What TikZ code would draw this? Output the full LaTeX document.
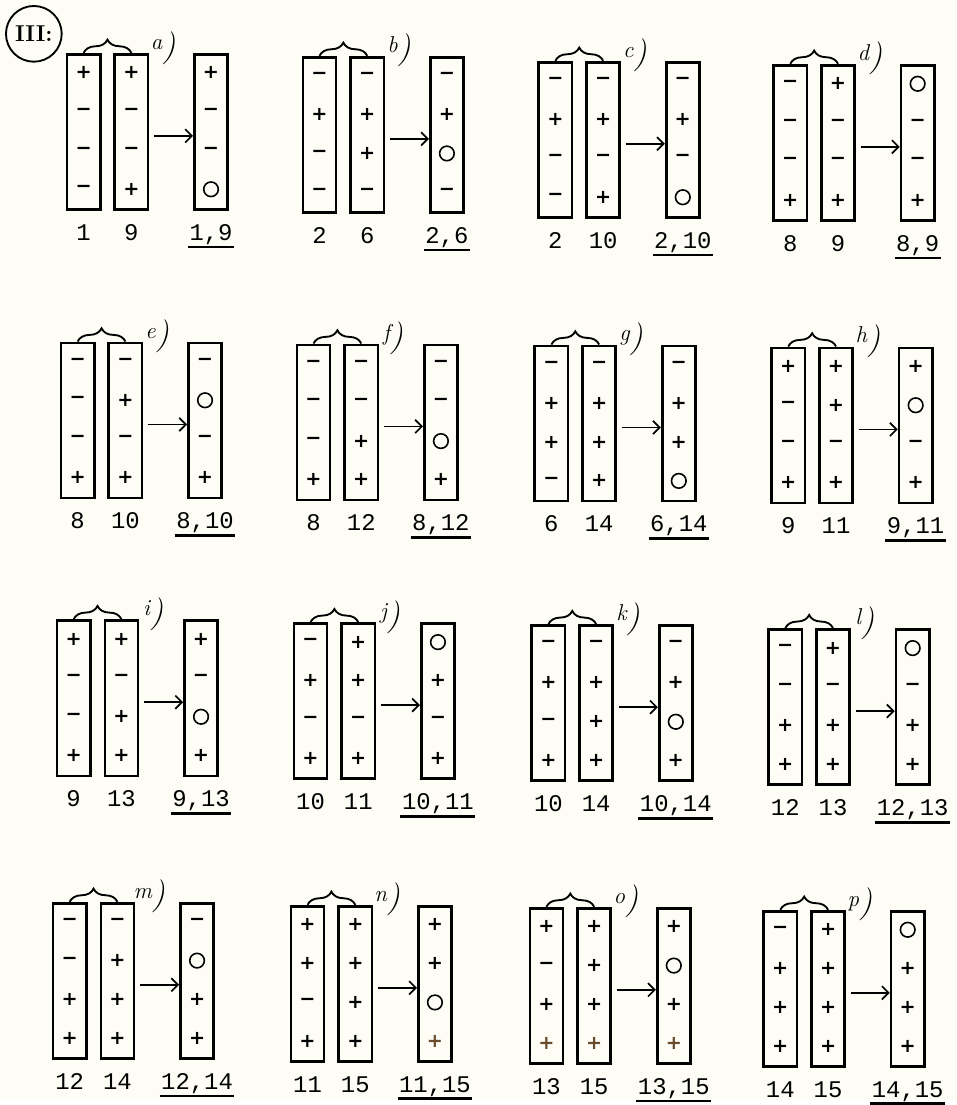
\documentclass[tikz,border=0pt]{standalone}
\usepackage{fontspec}
\setmonofont{Liberation Mono}
\newfontfamily\signfont{DejaVu Sans}
\usetikzlibrary{positioning,calc,arrows.meta,decorations.pathreplacing}

\definecolor{paper}{RGB}{253,253,245}
\definecolor{inkbrown}{RGB}{105,75,45}

\newcommand*{\px}{0.75pt}
\newcommand*{\colgap}{9pt}
\newcommand*{\resgap}{33pt}

% signs of one strip: p = plus, m = minus, o = zero, q = brown plus
\newcommand{\fillstrip}[2]{%
	\foreach \s [count=\k] in {#2} {
		\if\s o
			\node[zero] (#1\k) at ($(#1.north)+(0,{20+39*(\k-1)})$) {};
		\else
			\node[sign] (#1\k) at ($(#1.north)+(0,{20+39*(\k-1)})$) {\if\s m−\else\if\s q\color{inkbrown}\fi+\fi};
		\fi
	}%
}

% one panel: name, x, y, letter, left, right and joined strip, numbers
\newcommand{\panel}[9]{%
	\node[strip] (#1l) at ({#2+17},{#3+78.5}) {};
	\node[strip, right=\colgap of #1l] (#1r) {};
	\node[strip, right=\resgap of #1r] (#1s) {};
	\fillstrip{#1l}{#5}
	\fillstrip{#1r}{#6}
	\fillstrip{#1s}{#7}
	\draw[topbrace] (#1l.north) -- (#1r.north);
	\node[tag] (#1t) at ({#2+97},{#3-6}) {\raisebox{5pt}{#4}\Huge)};
	\draw[joinarrow] ([yshift=-3pt]#1r.east) -- ([yshift=-3pt]#1s.west);
	\node[num, below=10pt of #1l] (#1n) {#8};
	\node[num, below=10pt of #1r] (#1m) {#9};
	\node[num, below=10pt of #1s] (#1u) {#8,#9};
	\draw[underline] ([xshift=-1pt,yshift=-5pt]#1u.base west) -- ([xshift=1pt,yshift=-5pt]#1u.base east);
}

\begin{document}
\begin{tikzpicture}
[
	x=\px,
	y=-\px,
	strip/.style={draw, line width=2pt, minimum width=25pt, minimum height=117pt, inner sep=0pt},
	sign/.style={inner sep=0pt, font=\signfont\bfseries\fontsize{14.5}{14.5}\selectfont},
	zero/.style={circle, draw, line width=1.2pt, minimum size=11pt, inner sep=0pt},
	topbrace/.style={decorate, decoration={brace, amplitude=10pt}, line width=1.4pt},
	joinarrow/.style={-{Straight Barb[length=5pt,width=10pt]}, line width=1.3pt, shorten <=3.5pt},
	tag/.style={inner sep=0pt, font=\itshape\LARGE},
	num/.style={inner sep=0pt, font=\ttfamily\fontsize{18}{18}\selectfont},
	underline/.style={line width=2pt},
	header/.style={circle, draw, line width=1.4pt, minimum size=42pt, inner sep=0pt, font=\bfseries\LARGE}
]

	% paper
	\fill[paper] (0,0) rectangle (961,1105);

	\node[header] (hdr) at (34,34) {III:};

	% first row
	\panel{a}{67}{54}{a}{p,m,m,m}{p,m,m,p}{p,m,m,o}{1}{9}
	\panel{b}{304}{57}{b}{m,p,m,m}{m,p,p,m}{m,p,o,m}{2}{6}
	\panel{c}{541}{62}{c}{m,p,m,m}{m,p,m,p}{m,p,m,o}{2}{10}
	\panel{d}{777}{65}{d}{m,m,m,p}{p,m,m,p}{o,m,m,p}{8}{9}

	% second row
	\panel{e}{61}{344}{e}{m,m,m,p}{m,p,m,p}{m,o,m,p}{8}{10}
	\panel{f}{298}{346}{f}{m,m,m,p}{m,m,p,p}{m,m,o,p}{8}{12}
	\panel{g}{537}{347}{g}{m,p,p,m}{m,p,p,p}{m,p,p,o}{6}{14}
	\panel{h}{775}{349}{h}{p,m,m,p}{p,p,m,p}{p,o,m,p}{9}{11}

	% third row
	\panel{i}{57}{623}{i}{p,m,m,p}{p,m,p,p}{p,m,o,p}{9}{13}
	\panel{j}{295}{626}{j}{m,p,m,p}{p,p,m,p}{o,p,m,p}{10}{11}
	\panel{k}{534}{628}{k}{m,p,m,p}{m,p,p,p}{m,p,o,p}{10}{14}
	\panel{l}{772}{632}{l}{m,m,p,p}{p,m,p,p}{o,m,p,p}{12}{13}

	% fourth row
	\panel{m}{53}{907}{m}{m,m,p,p}{m,p,p,p}{m,o,p,p}{12}{14}
	\panel{n}{292}{910}{n}{p,p,m,p}{p,p,p,p}{p,p,o,q}{11}{15}
	\panel{o}{532}{912}{o}{p,m,p,q}{p,p,p,q}{p,o,p,q}{13}{15}
	\panel{p}{767}{915}{p}{m,p,p,p}{p,p,p,p}{o,p,p,p}{14}{15}

\end{tikzpicture}
\end{document}
